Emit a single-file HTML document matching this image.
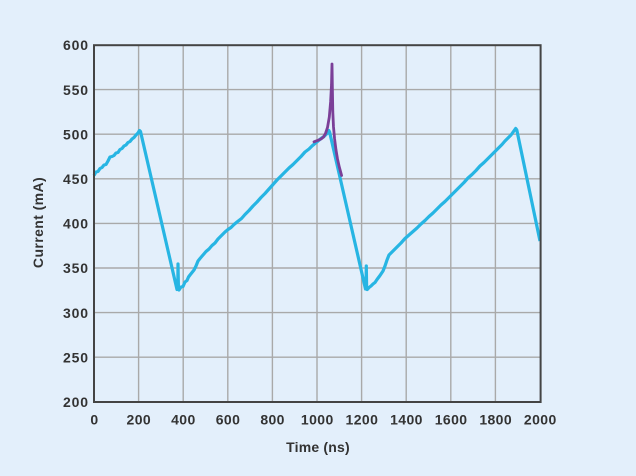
<!DOCTYPE html>
<html>
<head>
<meta charset="utf-8">
<style>
html,body{margin:0;padding:0;background:#e3effb;}
svg{display:block;}
text{font-family:"Liberation Sans",Arial,sans-serif;font-weight:bold;fill:#333;}
</style>
</head>
<body>
<svg width="636" height="476" viewBox="0 0 636 476" xmlns="http://www.w3.org/2000/svg">
<rect x="0" y="0" width="636" height="476" fill="#e3effb"/>
<g stroke="#a9a9a9" stroke-width="1.4" fill="none">
<line x1="138.6" y1="45" x2="138.6" y2="402"/>
<line x1="183.2" y1="45" x2="183.2" y2="402"/>
<line x1="227.8" y1="45" x2="227.8" y2="402"/>
<line x1="272.4" y1="45" x2="272.4" y2="402"/>
<line x1="317" y1="45" x2="317" y2="402"/>
<line x1="361.6" y1="45" x2="361.6" y2="402"/>
<line x1="406.2" y1="45" x2="406.2" y2="402"/>
<line x1="450.8" y1="45" x2="450.8" y2="402"/>
<line x1="495.4" y1="45" x2="495.4" y2="402"/>
<line x1="94" y1="89.6" x2="541" y2="89.6"/>
<line x1="94" y1="134.2" x2="541" y2="134.2"/>
<line x1="94" y1="178.8" x2="541" y2="178.8"/>
<line x1="94" y1="223.4" x2="541" y2="223.4"/>
<line x1="94" y1="268" x2="541" y2="268"/>
<line x1="94" y1="312.6" x2="541" y2="312.6"/>
<line x1="94" y1="357.2" x2="541" y2="357.2"/>
</g>
<!-- cyan trace -->
<polyline fill="none" stroke="#27b5e3" stroke-width="3.2" stroke-linejoin="round" points="
94,175.5 96,172 98,171.5 100,168.5 102,167.5 104,165 106,164.5 108,161 110,157 112,156.5 114,155.5 116,153 118,152.5 120,149.5 122,148.5 124,146 126,145 128,142.5 130,141.5 132,139 134,137.5 136,135 138,133 139.5,130.5 140.5,131.5
177,289.5 177.8,288 178,264 178.4,286 179,290 181,287 183,286.5 185,282 187,280.5 188.5,277 190,275 192,272.5 194,270 196,266 198,261 200,258.5 203,255 206,251.5 209,249 212,245.5 215,243 218,239 221.5,235.5 225,232 228,229.5 231,227.5 234,224.5 237,222 241.5,218.5 245,214.5 249,210.5 253,206 257,202 261,197.5 265,193.5 269,189 273,184.5 277,180 281.5,175.5 285,172 289,168 293,164.5 297,160.5 301,156.5 305,152 309,149 312,146 315,143.5 318,141 321,138.5 324,136.5 327,133.5 328.8,130.5 329.6,132
365.5,289 366,287 366.3,266 366.6,286 367.2,289.5 369,287.5 371,286 373,284 375,282.5 377,279.5 380,275.5 383,271 385,266 387,260 389,255 392,252 395,249 398,246 401,243 405,238.5 409,235 413,231.5 417,228 421,224 425,220.5 429,216.5 433,213 437,209 441,205 445,201.5 449,197.5 452,194.5 456,190.5 460,186.5 464,182.5 468,178 472,174.5 476,170.5 480,166 484,162.5 488,158.5 492,154.5 496,150.5 499,147.5 502,144.5 505,141 508,138 511,135 513.5,131.5 515.7,128.5 516.8,130
540,241"/>
<!-- purple transient -->
<path fill="none" stroke="#7b3f98" stroke-width="2.8" stroke-linejoin="round" stroke-linecap="round"
d="M314,141.8 L318,140.3 L321,139 L323.5,137 L325.5,133.5 L327.5,127.5 L329.3,117 L330.6,102 L331.5,85 L332,64 L332.4,90 L332.8,112 L333.5,127 L334.6,139 L336,150 L337.5,159 L339.3,167 L341.6,175.5"/>
<!-- axes frame -->
<rect x="94" y="45.2" width="446.6" height="356.8" fill="none" stroke="#444" stroke-width="2"/>
<!-- y tick labels -->
<g font-size="14" text-anchor="end" letter-spacing="0.9">
<text x="89" y="50.2">600</text>
<text x="89" y="94.8">550</text>
<text x="89" y="139.4">500</text>
<text x="89" y="184">450</text>
<text x="89" y="228.6">400</text>
<text x="89" y="273.2">350</text>
<text x="89" y="317.8">300</text>
<text x="89" y="362.4">250</text>
<text x="89" y="407">200</text>
</g>
<!-- x tick labels -->
<g font-size="14" text-anchor="middle" letter-spacing="0.4">
<text x="94.5" y="424.3">0</text>
<text x="138.8" y="424.3">200</text>
<text x="183.4" y="424.3">400</text>
<text x="228" y="424.3">600</text>
<text x="272.6" y="424.3">800</text>
<text x="317.3" y="424.3">1000</text>
<text x="361.9" y="424.3">1200</text>
<text x="406.5" y="424.3">1400</text>
<text x="451.1" y="424.3">1600</text>
<text x="495.7" y="424.3">1800</text>
<text x="540.3" y="424.3">2000</text>
</g>
<text x="318" y="452" font-size="14" text-anchor="middle" letter-spacing="0.2">Time (ns)</text>
<text transform="translate(43,222.5) rotate(-90)" font-size="14" text-anchor="middle" letter-spacing="0.4">Current (mA)</text>
</svg>
</body>
</html>
